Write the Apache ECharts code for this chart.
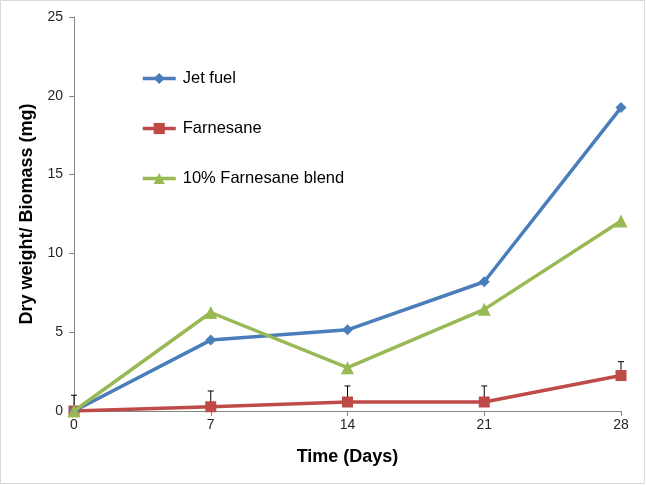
<!DOCTYPE html>
<html><head><meta charset="utf-8">
<script src="https://cdn.jsdelivr.net/npm/echarts@6/dist/echarts.min.js"></script>
<style>html,body{margin:0;padding:0;background:#fff}#c{width:646px;height:485px}</style>
</head><body><div id="c"></div>
<script>
const days = [0, 7, 14, 21, 28];
const jetFuel = [0, 4.5, 5.15, 8.2, 19.25];
const farnesane = [0, 0.27, 0.57, 0.57, 2.25];
const farnesaneErrTop = [1.0, 1.27, 1.59, 1.59, 3.13];
const blend = [0, 6.25, 2.75, 6.45, 12.05];
const yTicks = {min: 0, max: 25, interval: 5};

const chart = echarts.init(document.getElementById('c'));
const pairs = arr => days.map((d, i) => [d, arr[i]]);
const errData = days.map((d, i) => [d, farnesane[i], farnesaneErrTop[i]]);
const font = 'Liberation Sans, Arial, sans-serif';
chart.setOption({
  animation: false,
  backgroundColor: '#fff',
  grid: {left: 74, right: 25, top: 17, bottom: 74},
  xAxis: {
    type: 'value', min: 0, max: 28, interval: 7,
    name: 'Time (Days)', nameLocation: 'middle', nameGap: 37,
    nameTextStyle: {fontFamily: font, fontWeight: 'bold', fontSize: 18, color: '#000'},
    axisLine: {lineStyle: {color: '#868686'}},
    axisTick: {length: 5, lineStyle: {color: '#868686'}},
    axisLabel: {fontFamily: font, fontSize: 14, color: '#262626', margin: 7},
    splitLine: {show: false}
  },
  yAxis: {
    type: 'value', min: yTicks.min, max: yTicks.max, interval: yTicks.interval,
    name: 'Dry weight/ Biomass (mg)', nameLocation: 'middle', nameGap: 38,
    nameTextStyle: {fontFamily: font, fontWeight: 'bold', fontSize: 18, color: '#000'},
    axisLine: {show: true, lineStyle: {color: '#868686'}},
    axisTick: {show: true, length: 5, lineStyle: {color: '#868686'}},
    axisLabel: {fontFamily: font, fontSize: 14, color: '#262626', margin: 11},
    splitLine: {show: false}
  },
  legend: {
    orient: 'vertical', left: 136, top: 65, itemGap: 33, itemWidth: 33, itemHeight: 14,
    lineStyle: {width: 3.5},
    textStyle: {fontFamily: font, fontSize: 16.5, color: '#000', padding: [0, 0, 0, 2]},
    data: ['Jet fuel', 'Farnesane', '10% Farnesane blend']
  },
  series: [
    {
      name: 'Farnesane-err', type: 'custom', data: errData, z: 1,
      renderItem: (params, api) => {
        const p0 = api.coord([api.value(0), api.value(1)]);
        const p1 = api.coord([api.value(0), api.value(2)]);
        return {type: 'group', children: [
          {type: 'line', shape: {x1: p0[0], y1: p0[1], x2: p1[0], y2: p1[1]}, style: {stroke: '#000', lineWidth: 1}},
          {type: 'line', shape: {x1: p1[0] - 3, y1: p1[1], x2: p1[0] + 3, y2: p1[1]}, style: {stroke: '#000', lineWidth: 1}}
        ]};
      }
    },
    {name: 'Farnesane', type: 'line', data: pairs(farnesane), color: '#BE4B48', symbol: 'rect', symbolSize: 11,
     lineStyle: {width: 3.5}, z: 3},
    {name: 'Jet fuel', type: 'line', data: pairs(jetFuel), color: '#4A7EBB', symbol: 'diamond', symbolSize: 11,
     lineStyle: {width: 3.5}, z: 4},
    {name: '10% Farnesane blend', type: 'line', data: pairs(blend), color: '#98B954', symbol: 'triangle', symbolSize: 13,
     lineStyle: {width: 3.5}, z: 5}
  ],
  graphic: [{type: 'rect', shape: {x: 0.5, y: 0.5, width: 644, height: 483}, style: {fill: 'none', stroke: '#D9D9D9', lineWidth: 1}, silent: true}]
});
</script></body></html>
